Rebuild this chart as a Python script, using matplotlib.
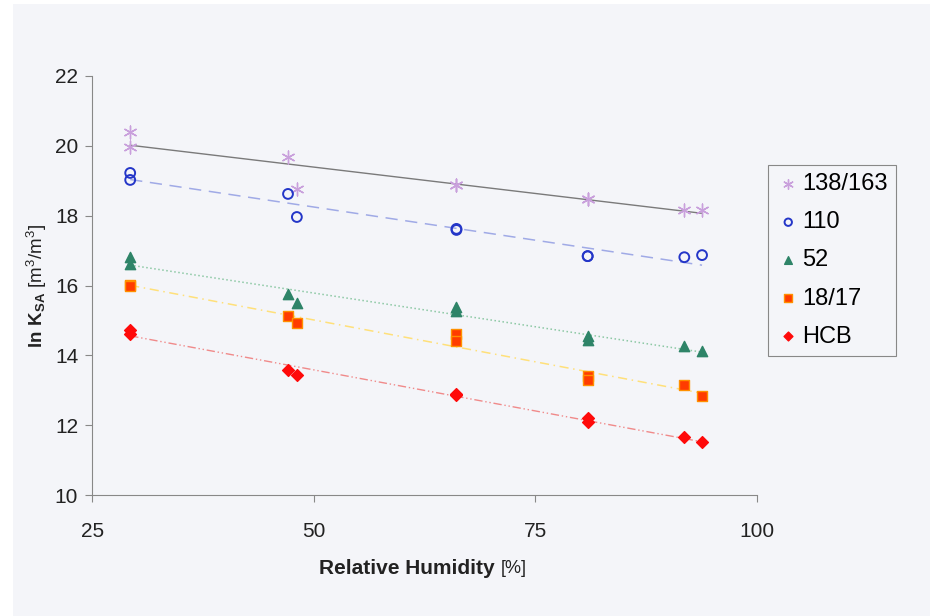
import matplotlib.pyplot as plt
from matplotlib.patches import Rectangle
import numpy as np

plt.rcParams['font.family'] = ['Liberation Sans', 'DejaVu Sans']
plt.rcParams['mathtext.fontset'] = 'custom'
plt.rcParams['mathtext.rm'] = 'Liberation Sans'
plt.rcParams['mathtext.bf'] = 'Liberation Sans:bold'

# relative humidity [%] for each measurement
rh = [29.3, 29.3, 47.1, 48.1, 66.1, 66.1, 80.9, 80.9, 91.8, 93.8]

pcb138 = [20.4, 19.97, 19.68, 18.76, 18.88, 18.88, 18.48, 18.48, 18.16, 18.16]
pcb110 = [19.22, 19.02, 18.62, 17.96, 17.59, 17.62, 16.84, 16.84, 16.81, 16.87]
pcb52 = [16.81, 16.61, 15.75, 15.50, 15.38, 15.28, 14.55, 14.44, 14.26, 14.12]
pcb18 = [16.02, 15.98, 15.12, 14.92, 14.62, 14.42, 13.40, 13.30, 13.15, 12.83]
hcb = [14.72, 14.62, 13.58, 13.43, 12.90, 12.88, 12.20, 12.10, 11.66, 11.51]

labels = ['138/163', '110', '52', '18/17', 'HCB']
series = [pcb138, pcb110, pcb52, pcb18, hcb]
markers = [dict(marker=(6, 2, 0), color='#c9a0dc', s=85, linewidths=1.0),
           dict(marker='o', facecolors='none', edgecolors='#2436c8', s=50, linewidths=1.4),
           dict(marker='^', color='#2e8468', s=55),
           dict(marker='s', color='#ff3c00', edgecolors='#ff9000', s=55),
           dict(marker='D', color='#ff0a0a', s=36)]
lines = [dict(color='#7a7a7a', ls='-', lw=1.0),
         dict(color='#a0aae6', ls=(0, (8, 5)), lw=1.1),
         dict(color='#8cc8a4', ls=':', lw=1.1),
         dict(color='#ffe07a', ls=(0, (6, 3, 1, 3)), lw=1.1),
         dict(color='#f08a8a', ls=(0, (6, 2, 1, 2, 1, 2)), lw=1.0)]

bg = '#f4f5f9'
fig = plt.figure(figsize=(9.3, 6.16), dpi=100, facecolor='white')
fig.patches.append(Rectangle((13 / 930, 0), 1, 1 - 4 / 616, transform=fig.transFigure,
                             facecolor=bg, edgecolor='none', zorder=-10))
ax = fig.add_axes([0.099, 0.196, 0.715, 0.681], facecolor=bg)

x = np.array(rh)
for y, lab, mk, ln in zip(series, labels, markers, lines):
    k, b = np.polyfit(x, y, 1)
    xs = np.array([x.min(), x.max()])
    ax.plot(xs, k * xs + b, zorder=1, **ln)
    ax.scatter(x, y, label=lab, zorder=2, **mk)

ax.set_xlim(25, 100)
ax.set_ylim(10, 22)
ax.set_xticks([25, 50, 75, 100])
ax.set_yticks(range(10, 23, 2))
ax.tick_params(labelsize=15, colors='#222222', length=5, color='#888888', pad=14)
ax.tick_params(axis='y', pad=5)
for s in ['top', 'right']:
    ax.spines[s].set_visible(False)
for s in ['left', 'bottom']:
    ax.spines[s].set_color('#888888')

ax.set_xlabel('Relative Humidity', fontsize=15, fontweight='bold', color='#222222')
ax.xaxis.set_label_coords(0.474, -0.152)
ax.annotate('[%]', xy=(1, 0), xycoords=ax.xaxis.label, xytext=(4, 1),
            textcoords='offset points', ha='left', va='bottom', fontsize=13,
            color='#222222')
ax.set_ylabel(r'$\bf{ln\ K_{SA}}$ [m$^3$/m$^3$]', fontsize=13.5, labelpad=4,
              color='#222222')

leg = fig.legend(loc='upper left', bbox_to_anchor=(0.826, 0.732), fontsize=17,
                 fancybox=False, edgecolor='#888888', facecolor=bg, framealpha=1,
                 handletextpad=0.1, labelspacing=0.68, handlelength=1.0,
                 borderpad=0.35, borderaxespad=0, markerscale=0.75)
leg.get_frame().set_linewidth(0.8)

fig.savefig('out.png', dpi=100, facecolor='white')
